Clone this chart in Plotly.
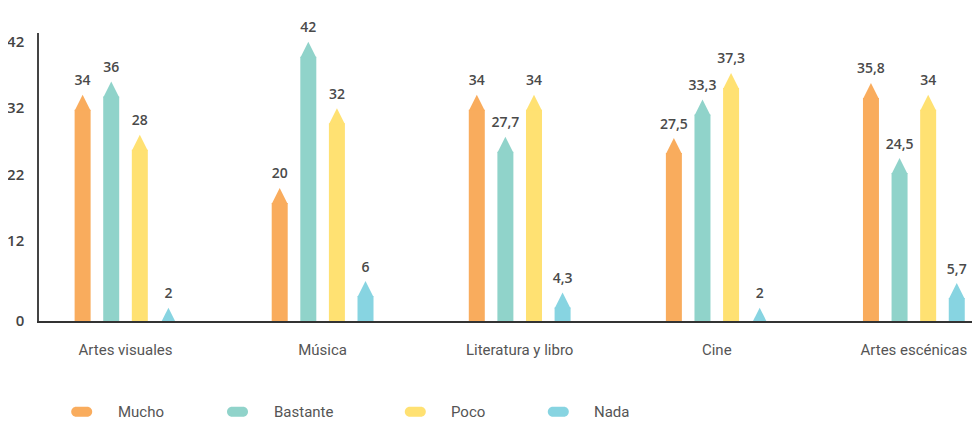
import plotly.graph_objects as go

# ---------------- data ----------------
categories = ["Artes visuales", "Música", "Literatura y libro", "Cine", "Artes escénicas"]
series_names = ["Mucho", "Bastante", "Poco", "Nada"]
mucho = [34, 20, 34, 27.5, 35.8]
bastante = [36, 42, 27.7, 33.3, 24.5]
poco = [28, 32, 34, 37.3, 34]
nada = [2, 6, 4.3, 2, 5.7]
y_tick_values = [0, 12, 22, 32, 42]

series_values = [mucho, bastante, poco, nada]

# ---------------- style / layout constants ----------------
colors = ["#F9AC5D", "#90D3CA", "#FFE172", "#87D4E1"]
PAGE_OFFSET = 8      # default body margin of the html page
W, H = 980, 421
ML, MR, MT, MB = 31, 16, 25, 108
PW = W - ML - MR
PH = H - MT - MB
Y_MAX = 43.3
X_RANGE = [-0.439, 4.295]
px_per_x = PW / (X_RANGE[1] - X_RANGE[0])
px_per_y = PH / Y_MAX
BAR_PX = 16          # bar width in pixels
TIP_PX = 16          # height of the pointed tip in pixels
SLOT_PX = 28.6       # distance between bars of a group
bar_w = BAR_PX / px_per_x
offsets = [(j - 1.5) * SLOT_PX / px_per_x for j in range(len(series_names))]

LEGEND_PILL_PX = [81.7, 237.5, 415.3, 558.3]   # window pixels
LEGEND_TEXT_GAP = 34
LEGEND_Y_PX = 411.7

NUM_FONT = dict(family="Open Sans", size=14, color="#4a4a4a", weight=600)
TXT_FONT = dict(family="Roboto", size=15, color="#555555")


def fmt(v):
    return f"{v:g}".replace(".", ",")


fig = go.Figure()
for j, (name, vals) in enumerate(zip(series_names, series_values)):
    xs = [i + offsets[j] for i in range(len(categories))]
    body = [max(0, v - (TIP_PX - 1) / px_per_y) for v in vals]
    fig.add_trace(go.Bar(
        x=xs, y=body, width=bar_w, name=name,
        marker=dict(color=colors[j], line=dict(width=0)),
        showlegend=False, hoverinfo="skip",
    ))
    fig.add_trace(go.Scatter(
        x=xs, y=vals, mode="markers", name=name,
        marker=dict(symbol="arrow-up", size=TIP_PX, color=colors[j], line=dict(width=0)),
        showlegend=False, hovertemplate=name + ": %{y}<extra></extra>",
    ))
    fig.add_trace(go.Scatter(
        x=xs, y=vals, mode="markers+text", text=[fmt(v) for v in vals],
        textposition="top center", textfont=NUM_FONT,
        marker=dict(size=8, opacity=0),
        showlegend=False, hoverinfo="skip", cliponaxis=False,
    ))

# custom legend (rounded pills + labels)
shapes = []
annotations = []
r = 5
hw = 10.5
pill = (f"M{-hw + r},{-r} H{hw - r} C{hw - r + 2.8},{-r} {hw},{-r + 2.2} {hw},0 "
        f"C{hw},{r - 2.2} {hw - r + 2.8},{r} {hw - r},{r} H{-hw + r} "
        f"C{-hw + r - 2.8},{r} {-hw},{r - 2.2} {-hw},0 "
        f"C{-hw},{-r + 2.2} {-hw + r - 2.8},{-r} {-hw + r},{-r} Z")
ly = (MT + PH - (LEGEND_Y_PX - PAGE_OFFSET)) / PH
for j, name in enumerate(series_names):
    lx = (LEGEND_PILL_PX[j] - PAGE_OFFSET - ML) / PW
    shapes.append(dict(
        type="path", xref="paper", yref="paper", xsizemode="pixel", ysizemode="pixel",
        xanchor=lx, yanchor=ly, path=pill, fillcolor=colors[j], line=dict(width=0),
    ))
    tx = (LEGEND_PILL_PX[j] + LEGEND_TEXT_GAP - PAGE_OFFSET - ML) / PW
    annotations.append(dict(
        x=tx, y=ly, xref="paper", yref="paper", text=name, showarrow=False,
        xanchor="left", yanchor="middle", font=TXT_FONT,
    ))

fig.update_layout(
    width=W, height=H, autosize=False,
    margin=dict(l=ML, r=MR, t=MT, b=MB, pad=0, autoexpand=False),
    paper_bgcolor="white", plot_bgcolor="white",
    barmode="overlay", showlegend=False,
    shapes=shapes, annotations=annotations,
    xaxis=dict(
        range=X_RANGE, tickvals=list(range(len(categories))), ticktext=categories,
        showline=True, linecolor="#333333", linewidth=2,
        ticks="outside", ticklen=14, tickcolor="rgba(0,0,0,0)",
        showgrid=False, zeroline=False, tickfont=TXT_FONT,
        fixedrange=True, automargin=False,
    ),
    yaxis=dict(
        range=[0, Y_MAX], tickvals=y_tick_values,
        showline=True, linecolor="#444444", linewidth=1.5,
        ticks="outside", ticklen=10, tickcolor="rgba(0,0,0,0)",
        showgrid=False, zeroline=False,
        tickfont=dict(family="Open Sans", size=15, color="#444444", weight=600),
        fixedrange=True, automargin=False,
    ),
)

fig.write_html("out.html")
